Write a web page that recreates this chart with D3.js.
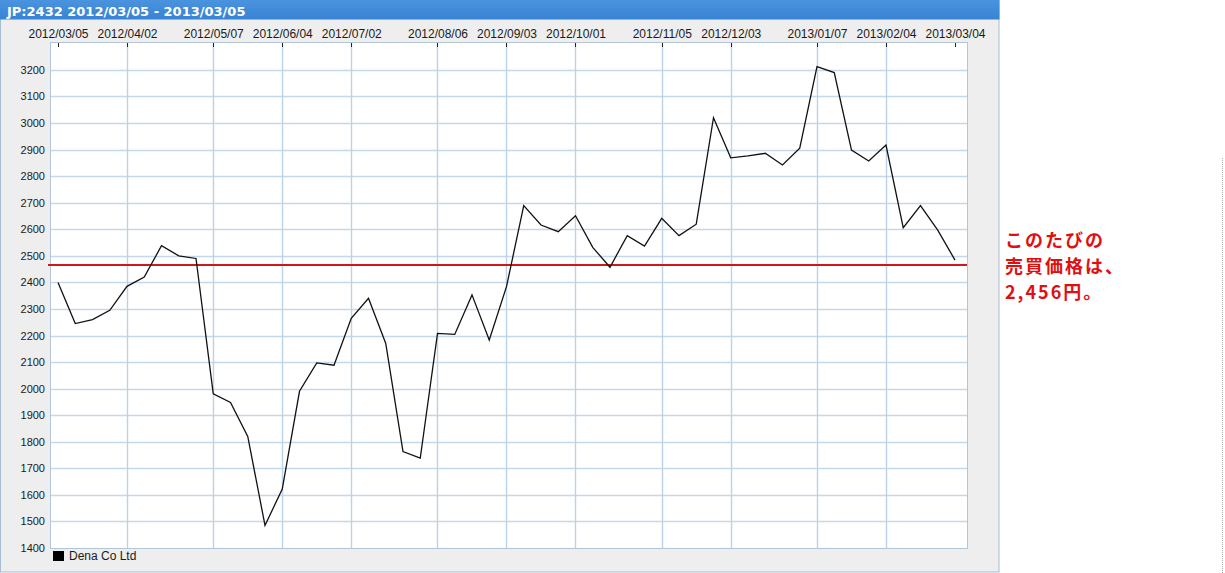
<!DOCTYPE html>
<html>
<head>
<meta charset="utf-8">
<script src="https://cdn.jsdelivr.net/npm/d3@7"></script>
<style>
  html, body { margin: 0; padding: 0; background: #ffffff; }
  svg { display: block; }
</style>
</head>
<body>
<svg id="chart" width="1225" height="573"></svg>
<script>
// ---- data ----
const titleText = "JP:2432 2012/03/05 - 2013/03/05";
const seriesName = "Dena Co Ltd";
const weekDates = [
  "2012-03-05","2012-03-12","2012-03-19","2012-03-26","2012-04-02","2012-04-09","2012-04-16","2012-04-23","2012-04-30",
  "2012-05-07","2012-05-14","2012-05-21","2012-05-28","2012-06-04","2012-06-11","2012-06-18","2012-06-25",
  "2012-07-02","2012-07-09","2012-07-16","2012-07-23","2012-07-30","2012-08-06","2012-08-13","2012-08-20","2012-08-27",
  "2012-09-03","2012-09-10","2012-09-17","2012-09-24","2012-10-01","2012-10-08","2012-10-15","2012-10-22","2012-10-29",
  "2012-11-05","2012-11-12","2012-11-19","2012-11-26","2012-12-03","2012-12-10","2012-12-17","2012-12-24","2012-12-31",
  "2013-01-07","2013-01-14","2013-01-21","2013-01-28","2013-02-04","2013-02-11","2013-02-18","2013-02-25","2013-03-04"
];
const prices = [
  2400, 2245, 2260, 2295, 2385, 2420, 2538, 2500, 2490,
  1980, 1948, 1820, 1485, 1622, 1990, 2097, 2088,
  2265, 2340, 2170, 1763, 1738, 2208, 2204, 2353, 2183,
  2384, 2689, 2616, 2591, 2651, 2532, 2457, 2576, 2537,
  2641, 2576, 2619, 3020, 2869, 2876, 2886, 2842, 2905,
  3212, 3190, 2898, 2857, 2917, 2606, 2689, 2597, 2484
];
const xTickDates = [
  "2012-03-05","2012-04-02","2012-05-07","2012-06-04","2012-07-02","2012-08-06",
  "2012-09-03","2012-10-01","2012-11-05","2012-12-03","2013-01-07","2013-02-04","2013-03-04"
];
const yTicks = [1400,1500,1600,1700,1800,1900,2000,2100,2200,2300,2400,2500,2600,2700,2800,2900,3000,3100,3200];
const referencePrice = 2465;
const noteLines = ["このたびの", "売買価格は、", "2,456円。"];

// ---- setup ----
const parse = d3.timeParse("%Y-%m-%d");
const fmt = d3.timeFormat("%Y/%m/%d");
const data = weekDates.map((d, i) => ({ date: parse(d), value: prices[i] }));
const ticks = xTickDates.map(parse);

const plot = { left: 50, right: 967, top: 42, bottom: 548 };

const x = d3.scaleTime()
  .domain([new Date(2012, 2, 1, 18), new Date(2013, 2, 8, 21)])
  .range([plot.left, plot.right]);
const y = d3.scaleLinear()
  .domain([1400, 3305])
  .range([plot.bottom, plot.top]);

const svg = d3.select("#chart");

// gradient for title bar
const defs = svg.append("defs");
const grad = defs.append("linearGradient").attr("id", "tb").attr("x1", 0).attr("y1", 0).attr("x2", 0).attr("y2", 1);
grad.append("stop").attr("offset", "0%").attr("stop-color", "#4a93de");
grad.append("stop").attr("offset", "100%").attr("stop-color", "#3783d4");

// outer panel
svg.append("rect")
  .attr("x", 0.5).attr("y", 0.5).attr("width", 998.5).attr("height", 571.5)
  .attr("fill", "#eeeeee").attr("stroke", "#a9bdd1");

// title bar
svg.append("rect")
  .attr("x", 0).attr("y", 0).attr("width", 999.5).attr("height", 19.5)
  .attr("fill", "url(#tb)");
svg.append("text")
  .attr("x", 7).attr("y", 15.5)
  .attr("fill", "#ffffff")
  .attr("font-family", "DejaVu Sans, sans-serif")
  .attr("font-weight", "bold")
  .attr("font-size", 13)
  .text(titleText);

// plot area
svg.append("rect")
  .attr("x", plot.left + 0.5).attr("y", plot.top + 0.5)
  .attr("width", plot.right - plot.left).attr("height", plot.bottom - plot.top)
  .attr("fill", "#ffffff").attr("stroke", "#b3c6d9");

// horizontal gridlines
svg.append("g").selectAll("line")
  .data(yTicks.filter(v => v > 1400))
  .join("line")
  .attr("x1", plot.left + 1).attr("x2", plot.right)
  .attr("y1", d => Math.round(y(d)) + 0.5).attr("y2", d => Math.round(y(d)) + 0.5)
  .attr("stroke", "#c5d8e9").attr("stroke-width", 1.4);

// vertical gridlines (inner ticks)
svg.append("g").selectAll("line")
  .data(ticks.slice(1, -1))
  .join("line")
  .attr("x1", d => Math.round(x(d)) + 0.5).attr("x2", d => Math.round(x(d)) + 0.5)
  .attr("y1", plot.top + 1).attr("y2", plot.bottom)
  .attr("stroke", "#bcd3e7").attr("stroke-width", 1.4);

// tick marks at top
svg.append("g").selectAll("line")
  .data(ticks)
  .join("line")
  .attr("x1", d => Math.round(x(d)) + 0.5).attr("x2", d => Math.round(x(d)) + 0.5)
  .attr("y1", plot.top + 1).attr("y2", plot.top + 5)
  .attr("stroke", "#222222").attr("stroke-width", 1);

// x axis labels (top)
const xAxis = d3.axisTop(x).tickValues(ticks).tickFormat(fmt).tickSize(0).tickPadding(0);
const gx = svg.append("g").attr("transform", `translate(0, 38)`).call(xAxis);
gx.select(".domain").remove();
gx.selectAll("text")
  .attr("font-family", "Liberation Sans, Arial, sans-serif")
  .attr("font-size", 12)
  .attr("fill", "#1a1a1a")
  .attr("dy", 0);

// y axis labels
const yAxis = d3.axisLeft(y).tickValues(yTicks).tickFormat(d3.format("d")).tickSize(0).tickPadding(0);
const gy = svg.append("g").attr("transform", `translate(45, 0)`).call(yAxis);
gy.select(".domain").remove();
gy.selectAll("text")
  .attr("font-family", "Liberation Sans, Arial, sans-serif")
  .attr("font-size", 11)
  .attr("fill", "#1a1a1a");

// reference price line
svg.append("line")
  .attr("x1", plot.left - 2).attr("x2", plot.right)
  .attr("y1", y(referencePrice)).attr("y2", y(referencePrice))
  .attr("stroke", "#cc1a1a").attr("stroke-width", 2);

// price line
const line = d3.line().x(d => x(d.date)).y(d => y(d.value));
svg.append("path")
  .datum(data)
  .attr("d", line)
  .attr("fill", "none")
  .attr("stroke", "#111111")
  .attr("stroke-width", 1.3)
  .attr("stroke-linejoin", "miter");

// legend
svg.append("rect")
  .attr("x", 53).attr("y", 551).attr("width", 11).attr("height", 10)
  .attr("fill", "#000000");
svg.append("text")
  .attr("x", 69).attr("y", 560)
  .attr("font-family", "Liberation Sans, Arial, sans-serif")
  .attr("font-size", 12)
  .attr("fill", "#1a1a1a")
  .text(seriesName);

// annotation (three lines)
svg.append("g").selectAll("text")
  .data(noteLines)
  .join("text")
  .attr("x", 1005)
  .attr("y", (d, i) => 247 + i * 26)
  .attr("font-family", "Noto Sans CJK JP, sans-serif")
  .attr("font-weight", "bold")
  .attr("font-size", 18)
  .attr("letter-spacing", 2)
  .attr("fill", "#e01010")
  .text(d => d);

// faint dotted edge at right
svg.append("line")
  .attr("x1", 1222.5).attr("x2", 1222.5).attr("y1", 158).attr("y2", 573)
  .attr("stroke", "#aaaaaa").attr("stroke-dasharray", "1,1");
</script>
</body>
</html>
